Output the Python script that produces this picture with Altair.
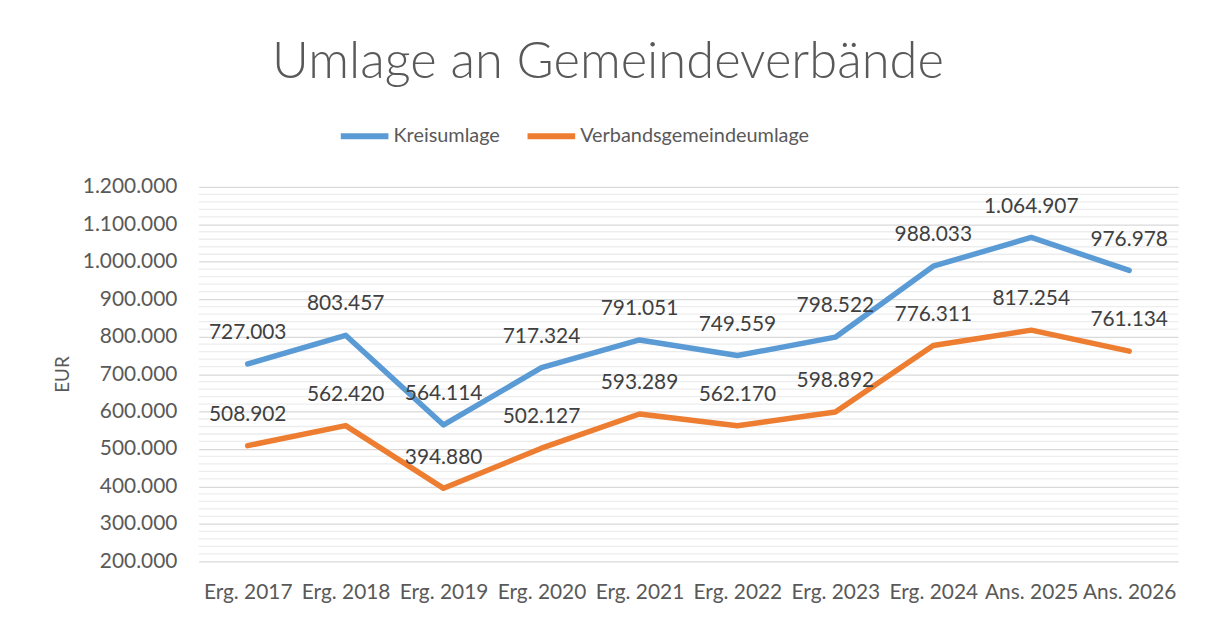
import altair as alt
import pandas as pd

categories = ["Erg. 2017", "Erg. 2018", "Erg. 2019", "Erg. 2020", "Erg. 2021",
              "Erg. 2022", "Erg. 2023", "Erg. 2024", "Ans. 2025", "Ans. 2026"]
series_names = ["Kreisumlage", "Verbandsgemeindeumlage"]
kreisumlage = [727003, 803457, 564114, 717324, 791051, 749559, 798522, 988033, 1064907, 976978]
verbandsgemeindeumlage = [508902, 562420, 394880, 502127, 593289, 562170, 598892, 776311, 817254, 761134]
major_ticks = [200000, 300000, 400000, 500000, 600000, 700000, 800000, 900000, 1000000, 1100000, 1200000]
minor_ticks = [v for v in range(200000, 1200001, 20000) if v % 100000 != 0]
colors = ["#5B9BD5", "#ED7D31"]

rows = []
for s, vals in zip(series_names, [kreisumlage, verbandsgemeindeumlage]):
    for c, v in zip(categories, vals):
        rows.append({"cat": c, "series": s, "value": v})
df = pd.DataFrame(rows)
minor_df = pd.DataFrame({"v": minor_ticks})

FONT = "Lato"
TXT = "#595959"

yscale = alt.Scale(domain=[200000, 1200000], nice=False, zero=False)
xscale = alt.Scale(type="point", padding=0.5)
yaxis = alt.Axis(title="EUR", values=major_ticks, format=",d", domain=False, ticks=False,
                 gridColor="#D9D9D9", gridWidth=1.3, labelOverlap=False,
                 labelFontSize=21, labelColor=TXT, labelFont=FONT, labelPadding=22,
                 titleFontSize=19, titleColor=TXT, titleFont=FONT, titleFontWeight="normal",
                 titlePadding=10)
xaxis = alt.Axis(title=None, domain=False, ticks=False, grid=False,
                 labelFontSize=21, labelColor=TXT, labelFont=FONT,
                 labelPadding=20, labelAngle=0, labelOverlap=False)

minor = alt.Chart(minor_df).mark_rule(color="#EDEDED", strokeWidth=1.3).encode(
    y=alt.Y("v:Q", scale=yscale, axis=yaxis, title="EUR"))

lines = alt.Chart(df).mark_line(strokeWidth=5.5, strokeCap="round", strokeJoin="round").encode(
    x=alt.X("cat:N", sort=categories, scale=xscale, axis=xaxis),
    y=alt.Y("value:Q", scale=yscale, axis=yaxis, title="EUR"),
    color=alt.Color("series:N", sort=series_names,
                    scale=alt.Scale(domain=series_names, range=colors),
                    legend=alt.Legend(title=None, orient="none", direction="horizontal",
                                      legendX=140, legendY=-78, symbolType="stroke",
                                      symbolSize=2300, symbolStrokeWidth=6,
                                      labelFontSize=20, labelColor=TXT, labelFont=FONT,
                                      labelLimit=0, labelOffset=2, columnPadding=15, padding=0)),
)

labels = alt.Chart(df).mark_text(fontSize=21, font=FONT, color="#404040", dy=-31, baseline="middle").encode(
    x=alt.X("cat:N", sort=categories, scale=xscale, axis=xaxis),
    y=alt.Y("value:Q", scale=yscale, axis=yaxis, title="EUR"),
    text=alt.Text("value:Q", format=",d"),
)

chart = alt.layer(minor, lines, labels).properties(
    width=986, height=377,
    padding={"left": 192, "top": 178, "right": 22, "bottom": 49},
    autosize=alt.AutoSizeParams(type="none"),
    title=alt.TitleParams("Umlage an Gemeindeverbände", fontSize=51, font=FONT, fontWeight=300,
                          color=TXT, anchor="middle", dx=-81, offset=21),
).configure_view(stroke=None)

chart.save("out.html", embed_options={"renderer": "svg", "actions": False,
                                      "formatLocale": {"decimal": ",", "thousands": ".",
                                                       "grouping": [3], "currency": ["", " €"]}})
